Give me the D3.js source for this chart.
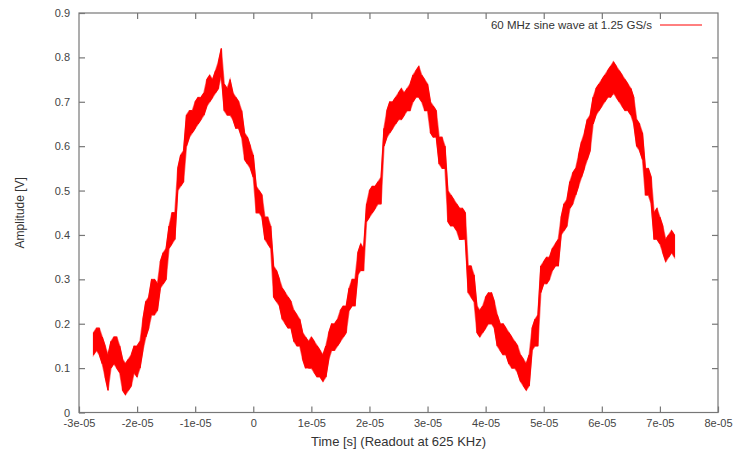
<!DOCTYPE html>
<html><head><meta charset="utf-8">
<script src="https://cdn.jsdelivr.net/npm/d3@7"></script>
<style>
html,body{margin:0;padding:0;background:#fff;}
svg{display:block;font-family:"Liberation Sans",Arial,sans-serif;}
</style></head>
<body><svg id="c" width="738" height="453"></svg>
<script>
// time in microseconds (multiplied by 1e-6 for seconds)
const timeUs = [-27.5,-27,-26.5,-26,-25.5,-25,-24.5,-24,-23.5,-23,-22.5,-22,-21.5,-21,-20.5,-20,-19.5,-19,-18.5,-18,-17.5,-17,-16.5,-16,-15.5,-15,-14.5,-14,-13.5,-13,-12.5,-12,-11.5,-11,-10.5,-10,-9.5,-9,-8.5,-8,-7.5,-7,-6.5,-6,-5.5,-5,-4.5,-4,-3.5,-3,-2.5,-2,-1.5,-1,-0.5,0,0.5,1,1.5,2,2.5,3,3.5,4,4.5,5,5.5,6,6.5,7,7.5,8,8.5,9,9.5,10,10.5,11,11.5,12,12.5,13,13.5,14,14.5,15,15.5,16,16.5,17,17.5,18,18.5,19,19.5,20,20.5,21,21.5,22,22.5,23,23.5,24,24.5,25,25.5,26,26.5,27,27.5,28,28.5,29,29.5,30,30.5,31,31.5,32,32.5,33,33.5,34,34.5,35,35.5,36,36.5,37,37.5,38,38.5,39,39.5,40,40.5,41,41.5,42,42.5,43,43.5,44,44.5,45,45.5,46,46.5,47,47.5,48,48.5,49,49.5,50,50.5,51,51.5,52,52.5,53,53.5,54,54.5,55,55.5,56,56.5,57,57.5,58,58.5,59,59.5,60,60.5,61,61.5,62,62.5,63,63.5,64,64.5,65,65.5,66,66.5,67,67.5,68,68.5,69,69.5,70,70.5,71,71.5,72,72.5];
const upperV = [.18,.19,.19,.17,.15,.13,.16,.17,.17,.15,.12,.11,.12,.13,.15,.15,.16,.21,.25,.26,.30,.30,.29,.34,.36,.37,.42,.45,.45,.55,.58,.59,.67,.68,.68,.70,.71,.71,.72,.75,.76,.75,.77,.79,.82,.74,.73,.75,.72,.71,.70,.68,.63,.62,.60,.58,.51,.50,.49,.44,.44,.42,.33,.32,.30,.28,.27,.26,.25,.23,.22,.21,.18,.17,.16,.17,.16,.15,.14,.13,.15,.18,.20,.20,.21,.23,.24,.24,.28,.30,.30,.36,.38,.37,.47,.50,.51,.51,.52,.53,.64,.68,.70,.70,.71,.72,.73,.72,.73,.74,.76,.77,.78,.76,.75,.74,.70,.69,.68,.62,.62,.60,.50,.49,.48,.47,.46,.46,.45,.33,.33,.31,.24,.23,.24,.26,.27,.27,.25,.22,.20,.20,.19,.18,.17,.16,.15,.13,.12,.11,.13,.19,.21,.22,.33,.34,.35,.35,.37,.38,.39,.44,.47,.48,.52,.54,.55,.58,.61,.63,.66,.67,.71,.73,.74,.75,.76,.77,.78,.79,.78,.77,.76,.75,.74,.73,.71,.66,.65,.63,.55,.55,.53,.45,.46,.44,.42,.39,.40,.41,.40];
const lowerV = [.13,.14,.13,.11,.08,.05,.10,.11,.10,.09,.05,.04,.05,.06,.09,.08,.10,.14,.17,.19,.22,.22,.23,.28,.29,.30,.37,.38,.39,.50,.51,.52,.60,.62,.63,.64,.65,.66,.67,.69,.70,.71,.72,.73,.76,.68,.67,.67,.66,.64,.64,.62,.57,.56,.55,.53,.45,.45,.44,.39,.38,.37,.26,.25,.24,.21,.20,.19,.19,.16,.15,.15,.12,.10,.10,.10,.09,.08,.08,.07,.08,.12,.14,.14,.15,.16,.17,.18,.23,.24,.24,.31,.32,.32,.43,.44,.45,.46,.47,.47,.60,.62,.63,.64,.65,.66,.66,.67,.68,.68,.70,.71,.71,.70,.68,.68,.63,.62,.62,.56,.55,.55,.43,.42,.42,.41,.39,.39,.39,.27,.26,.25,.18,.17,.18,.19,.20,.20,.19,.15,.14,.13,.13,.11,.10,.10,.09,.07,.06,.05,.06,.14,.15,.15,.27,.29,.29,.30,.32,.33,.33,.40,.41,.42,.46,.47,.49,.51,.53,.55,.57,.59,.65,.67,.68,.69,.70,.71,.71,.72,.71,.70,.69,.68,.68,.67,.65,.60,.59,.57,.49,.49,.47,.39,.39,.38,.36,.34,.35,.36,.35];
const xTicks = [-3e-5,-2e-5,-1e-5,0,1e-5,2e-5,3e-5,4e-5,5e-5,6e-5,7e-5,8e-5];
const xTickLabels = ["-3e-05","-2e-05","-1e-05","0","1e-05","2e-05","3e-05","4e-05","5e-05","6e-05","7e-05","8e-05"];
const yTicks = [0,0.1,0.2,0.3,0.4,0.5,0.6,0.7,0.8,0.9];
const yTickLabels = ["0","0.1","0.2","0.3","0.4","0.5","0.6","0.7","0.8","0.9"];
const legendLabel = "60 MHz sine wave at 1.25 GS/s";
const xTitle = "Time [s] (Readout at 625 KHz)";
const yTitle = "Amplitude [V]";

const data = timeUs.map((t,i)=>({t:t*1e-6, hi:upperV[i], lo:lowerV[i]}));

const L=79, R=718, T=13, B=412.5;
const svg = d3.select("#c");
const x = d3.scaleLinear().domain([-3e-5,8e-5]).range([L,R]);
const y = d3.scaleLinear().domain([0,0.9]).range([B,T]);
const gray="#777", txt="#444";

// border
svg.append("rect").attr("x",L).attr("y",T).attr("width",R-L).attr("height",B-T)
  .attr("fill","none").attr("stroke",gray).attr("stroke-width",1.2);

// axes
const fmtX = d=>xTickLabels[xTicks.indexOf(d)];
const fmtY = d=>yTickLabels[yTicks.findIndex(v=>Math.abs(v-d)<1e-9)];
const ax = (g)=>{g.select(".domain").remove(); g.selectAll("line").attr("stroke",gray).attr("stroke-width",1.2);
  g.selectAll("text").attr("fill",txt).style("font-size","11px").style("font-family","'Liberation Sans',Arial,sans-serif");};
svg.append("g").attr("transform",`translate(0,${B})`)
  .call(d3.axisBottom(x).tickValues(xTicks).tickFormat(fmtX).tickSizeInner(-6).tickSizeOuter(0).tickPadding(7)).call(ax);
svg.append("g").attr("transform",`translate(0,${T})`)
  .call(d3.axisTop(x).tickValues(xTicks.slice(1,-1)).tickFormat("").tickSizeInner(-6).tickSizeOuter(0)).call(ax);
svg.append("g").attr("transform",`translate(${L},0)`)
  .call(d3.axisLeft(y).tickValues(yTicks).tickFormat(fmtY).tickSizeInner(-6).tickSizeOuter(0).tickPadding(9)).call(ax);
svg.append("g").attr("transform",`translate(${R},0)`)
  .call(d3.axisRight(y).tickValues(yTicks.slice(1,-1)).tickFormat("").tickSizeInner(-6).tickSizeOuter(0)).call(ax);

// signal band
const area = d3.area().x(d=>x(d.t)).y0(d=>y(d.lo)).y1(d=>y(d.hi));
svg.append("path").datum(data).attr("d",area).attr("fill","#ff0000").attr("stroke","#ff0000").attr("stroke-width",1.4).attr("stroke-opacity",0.55);
// noise strokes (same colour as band)
const pts = [];
data.forEach((d,i)=>{ if(i%2===0){pts.push([d.t,d.hi]);pts.push([d.t,d.lo]);} else {pts.push([d.t,d.lo]);pts.push([d.t,d.hi]);} });
svg.append("path").attr("d",d3.line().x(p=>x(p[0])).y(p=>y(p[1]))(pts))
  .attr("fill","none").attr("stroke","#ff0000").attr("stroke-width",1);

// titles
svg.append("text").attr("x",(L+R)/2).attr("y",446).attr("text-anchor","middle")
  .attr("fill","#333").style("font-size","13px").text(xTitle);
svg.append("text").attr("transform",`translate(24,${(T+B)/2}) rotate(-90)`).attr("text-anchor","middle")
  .attr("fill","#333").style("font-size","12px").text(yTitle);

// legend
svg.append("text").attr("x",652).attr("y",29).attr("text-anchor","end").attr("fill","#333")
  .style("font-size","11.5px").text(legendLabel);
svg.append("line").attr("x1",660).attr("x2",702).attr("y1",25).attr("y2",25).attr("stroke","#ff0000").attr("stroke-width",1);
</script></body></html>
